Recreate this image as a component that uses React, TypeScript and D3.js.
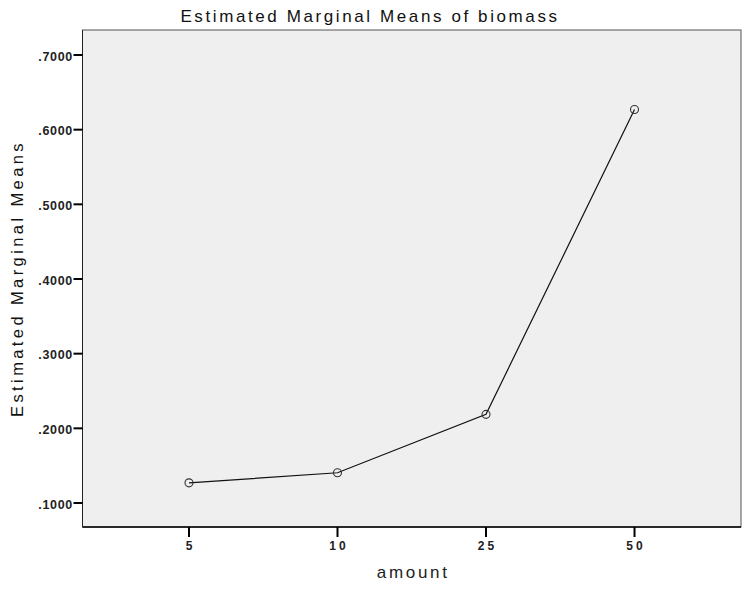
import React from "react";
import * as d3 from "d3";

const categories: string[] = ["5", "10", "25", "50"];
const means: number[] = [0.127, 0.1405, 0.2187, 0.627];
const yTicks: number[] = [0.1, 0.2, 0.3, 0.4, 0.5, 0.6, 0.7];
const titleText = "Estimated Marginal Means of biomass";
const xLabel = "amount";
const yLabel = "Estimated Marginal Means";

export default function App() {
  const W = 742, H = 590;
  const left = 82.5, right = 741, top = 30, bottom = 527;
  const x = d3.scalePoint<string>().domain(categories).range([left, right]).padding(0.717);
  const y = d3.scaleLinear().domain([0.1, 0.7]).range([503, 55]);
  const line = d3.line<number>().x((_, i) => x(categories[i]) as number).y((d) => y(d));
  const font = "'Liberation Sans', Arial, sans-serif";
  return (
    <svg width={W} height={H} style={{ position: "absolute", left: 0, top: 0, background: "#fff" }}>
      <text x={370} y={21.5} textAnchor="middle" fontFamily={font} fontSize={17} letterSpacing={2.6} fill="#111">{titleText}</text>
      <rect x={left} y={top} width={right - left} height={bottom - top} fill="#efefef" stroke="#555" strokeWidth={1} />
      <line x1={left} x2={right} y1={bottom} y2={bottom} stroke="#000" strokeWidth={1.5} />
      <line x1={left} x2={left} y1={top} y2={bottom} stroke="#222" strokeWidth={1} />
      {yTicks.map((t) => (
        <g key={t}>
          <line x1={left - 9} x2={left} y1={y(t)} y2={y(t)} stroke="#000" strokeWidth={2} />
          <text x={left - 9.5} y={y(t) + 5.5} textAnchor="end" fontFamily={font} fontSize={12.5} fontWeight="bold" letterSpacing={0.7} fill="#222">
            {d3.format(".4f")(t).replace(/^0/, "")}
          </text>
        </g>
      ))}
      {categories.map((c) => (
        <g key={c}>
          <line x1={x(c)} x2={x(c)} y1={bottom} y2={bottom + 10} stroke="#000" strokeWidth={2} />
          <text x={(x(c) as number) + 1.5} y={549.5} textAnchor="middle" fontFamily={font} fontSize={12} fontWeight="bold" letterSpacing={3} fill="#222">{c}</text>
        </g>
      ))}
      <path d={line(means) || ""} fill="none" stroke="#111" strokeWidth={1.2} />
      {means.map((m, i) => (
        <circle key={i} cx={x(categories[i])} cy={y(m)} r={4} fill="none" stroke="#333" strokeWidth={1.1} />
      ))}
      <text x={(left + right) / 2 + 1.5} y={578} textAnchor="middle" fontFamily={font} fontSize={17} letterSpacing={2.7} fill="#222">{xLabel}</text>
      <text transform={`translate(23, ${(top + bottom) / 2}) rotate(-90)`} textAnchor="middle" fontFamily={font} fontSize={16.5} letterSpacing={3.4} fill="#111">{yLabel}</text>
    </svg>
  );
}
